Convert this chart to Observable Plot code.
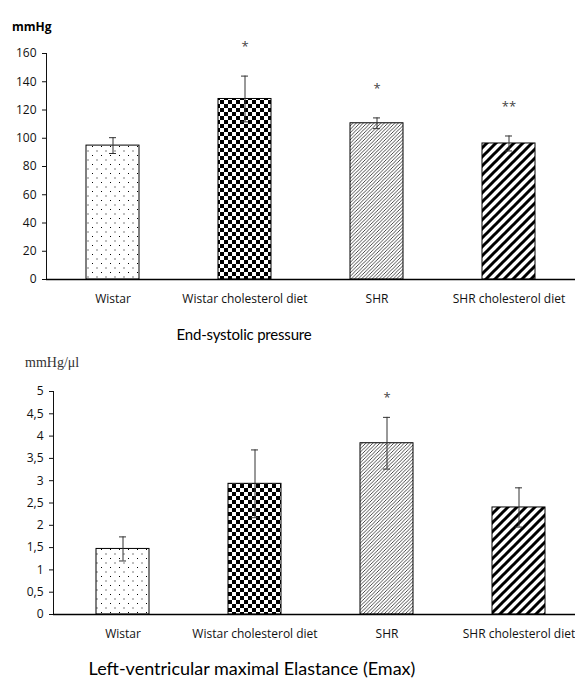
<!DOCTYPE html>
<html><head><meta charset="utf-8">
<script src="https://cdn.jsdelivr.net/npm/d3@7"></script>
<script src="https://cdn.jsdelivr.net/npm/@observablehq/plot@0.6"></script>
<style>
body{margin:0;background:#fff;overflow:hidden}
#wrap{position:relative;width:575px;height:680px;overflow:hidden}
.abs{position:absolute;white-space:nowrap;line-height:1}
.chart{position:absolute;left:0}
</style></head><body>
<svg width="0" height="0" style="position:absolute">
<defs>
<pattern id="dots" patternUnits="userSpaceOnUse" width="9" height="9">
<rect width="9" height="9" fill="#fff"/>
<rect x="2" y="2" width="1" height="1" fill="#000"/>
<rect x="6.5" y="6.5" width="1" height="1" fill="#000"/>
</pattern>
<pattern id="checker" patternUnits="userSpaceOnUse" width="8" height="8">
<rect width="8" height="8" fill="#fff"/>
<rect x="0" y="0" width="4" height="4" fill="#000"/>
<rect x="4" y="4" width="4" height="4" fill="#000"/>
</pattern>
<pattern id="hatch" patternUnits="userSpaceOnUse" width="3.5" height="3.5">
<rect width="3.5" height="3.5" fill="#fff"/>
<path d="M-1,1 L1,-1 M0,3.5 L3.5,0 M2.5,4.5 L4.5,2.5" stroke="#000" stroke-width="0.7"/>
</pattern>
<pattern id="stripes" patternUnits="userSpaceOnUse" width="9" height="9">
<rect width="9" height="9" fill="#fff"/>
<path d="M-2,2 L2,-2 M0,9 L9,0 M7,11 L11,7" stroke="#000" stroke-width="3"/>
</pattern>
</defs></svg>
<div id="wrap">
  <div class="abs" style="left:12px;top:18px;font:bold 12px 'Open Sans',sans-serif">mmHg</div>
  <div id="c1" class="chart" style="top:0"></div>
  <div class="abs" style="left:244px;top:325px;transform:translateX(-50%);font:15px Lato,sans-serif;letter-spacing:-0.2px">End-systolic pressure</div>
  <div class="abs" style="left:25px;top:355px;font:14px 'Liberation Serif',serif;color:#333">mmHg/μl</div>
  <div id="c2" class="chart" style="top:340px"></div>
  <div class="abs" style="left:252px;top:657px;transform:translateX(-50%);font:18px Lato,sans-serif">Left-ventricular maximal Elastance (Emax)</div>
</div>
<script>
const groups = ["Wistar", "Wistar cholesterol diet", "SHR", "SHR cholesterol diet"];
const patterns = ["dots", "checker", "hatch", "stripes"];

// End-systolic pressure (mmHg)
const espMean = [94.8, 127.8, 110.6, 96.3];
const espErr = [5.6, 16.2, 3.8, 5.3];
const espSig = ["", "*", "*", "**"];
const espTicks = [0, 20, 40, 60, 80, 100, 120, 140, 160];

// Emax (mmHg/µl)
const emaxMean = [1.47, 2.93, 3.84, 2.40];
const emaxErr = [0.27, 0.76, 0.58, 0.44];
const emaxSig = ["", "", "*", ""];
const emaxTicks = [0, 0.5, 1, 1.5, 2, 2.5, 3, 3.5, 4, 4.5, 5];

function chart({mean, err, sig, ticks, fmt, domain, marginLeft, marginTop, marginBottom, xRange, starDy}) {
  const data = groups.map((g, i) => ({g, m: mean[i], lo: mean[i] - err[i], hi: mean[i] + err[i], s: sig[i], p: `url(#${patterns[i]})`}));
  return Plot.plot({
    width: 575, height: 310,
    marginLeft, marginTop, marginBottom, marginRight: 0,
    style: {fontFamily: "'Open Sans', sans-serif", fontSize: "12px", color: "#111", background: "transparent", overflow: "visible"},
    x: {domain: groups, range: xRange, paddingInner: 0.6, paddingOuter: 0.3, label: null, tickSize: 0, tickPadding: 15},
    y: {domain, ticks, tickFormat: fmt, label: null, tickSize: 4, tickPadding: 6, line: true},
    marks: [
      ...data.map(d => Plot.barY([d], {x: "g", y: "m", fill: d.p, stroke: "#000", strokeWidth: 1})),
      Plot.ruleX(data, {x: "g", y1: "lo", y2: "hi", stroke: "#333", strokeWidth: 1}),
      Plot.tickY(data, {x: "g", y: "lo", stroke: "#333", insetLeft: 23, insetRight: 23}),
      Plot.tickY(data, {x: "g", y: "hi", stroke: "#333", insetLeft: 23, insetRight: 23}),
      Plot.text(data, {x: "g", y: "hi", text: "s", dy: starDy, fontSize: 13, fill: "#444"}),
      Plot.ruleY([0], {stroke: "#000", strokeWidth: 1.6})
    ]
  });
}

document.getElementById("c1").append(chart({
  mean: espMean, err: espErr, sig: espSig, ticks: espTicks, fmt: d => String(d),
  domain: [0, 160], marginLeft: 46, marginTop: 53, marginBottom: 31, xRange: [46, 574], starDy: -29
}));
document.getElementById("c2").append(chart({
  mean: emaxMean, err: emaxErr, sig: emaxSig, ticks: emaxTicks, fmt: d => String(d).replace(".", ","),
  domain: [0, 5], marginLeft: 53, marginTop: 51, marginBottom: 36, xRange: [55, 585], starDy: -20
}));
</script>
</body></html>
